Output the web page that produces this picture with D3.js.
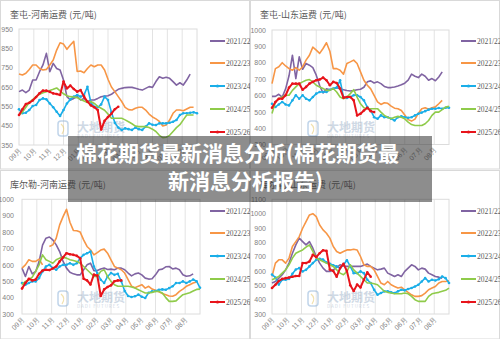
<!DOCTYPE html>
<html><head><meta charset="utf-8">
<script src="https://cdn.jsdelivr.net/npm/d3@7"></script>
<style>body{margin:0;background:#fff}svg{display:block;font-family:"Noto Sans CJK SC","Noto Sans",sans-serif}</style>
</head><body><svg id="c" width="500" height="339"></svg>
<script>
const months=["09月","10月","11月","12月","01月","02月","03月","04月","05月","06月","07月","08月"];
const seasons=["2021/22","2022/23","2023/24","2024/25","2025/26"];
const colors=["#8064a2","#f79646","#1aaee8","#8fcb4a","#e8141b"];
const headline1="棉花期货最新消息分析(棉花期货最";
const headline2="新消息分析报告)";
const titles=["奎屯-河南运费 (元/吨)","奎屯-山东运费 (元/吨)","库尔勒-河南运费 (元/吨)","库尔勒-山东运费 (元/吨)"];
const yTicks1=[350,450,550,650,750,850,950];
const yTicks2=[300,400,500,600,700,800,900,1000];
const yTicks3=[300,400,500,600,700,800,900,1000];
const yTicks4=[300,400,500,600,700,800,900,1000,1100];

// weekly values, panel 1 奎屯-河南
const kh2122=[626,634,621,634,686,686,729,764,824,729,772,746,738,686,600,583,591,600,583,591,574,583,583,591,600,603,605,612,626,638,643,647,648,648,643,638,634,643,652,648,678,703,695,700,695,678,660,672,660,686,717];
const kh2223=[717,712,721,741,764,764,746,738,741,764,790,841,879,872,845,867,886,730,733,724,746,764,755,764,764,738,690,650,626,600,575,545,533,531,540,545,545,531,510,495,485,472,448,453,479,514,531,531,527,536,545,545];
const kh2324=[535,514,517,531,552,557,583,591,586,565,545,522,500,531,565,586,600,609,600,609,651,570,548,545,560,600,583,520,465,440,428,436,432,428,440,432,428,445,462,455,453,462,462,462,465,470,479,505,514,514,517,519,514];
const kh2425=[505,520,545,570,585,600,612,620,626,632,638,645,630,615,605,600,598,595,585,578,570,575,565,550,540,530,510,488,488,488,488,480,470,460,448,445,445,445,440,432,420,400,388,390,400,420,440,455,480,505,505,505];
const kh2526=[505,535,562,568,580,598,618,631,631,625,617,614,609,678,643,657,640,626,634,600,574,555,545,531,430,475,495,512,535,548];
// panel 2 奎屯-山东
const ks2122=[594,594,607,590,640,720,846,703,836,760,795,785,770,724,660,615,640,635,640,648,640,635,630,627,630,635,638,650,683,689,676,683,672,655,648,648,652,658,665,675,693,730,717,709,730,717,693,703,690,713,744];
const ks2223=[672,764,775,800,780,764,754,770,754,775,816,846,895,877,857,887,922,870,764,764,754,730,795,805,816,795,744,693,662,640,600,560,545,555,552,535,522,519,508,480,452,443,455,490,519,525,515,525,530,549,570];
const ks2324=[549,529,545,560,545,539,570,601,580,601,580,570,590,611,621,621,621,635,642,648,693,590,585,590,601,601,590,570,529,508,467,457,478,467,467,457,447,467,472,467,463,467,478,488,495,504,513,519,519,523,519,525,525];
const ks2425=[490,560,580,590,601,601,631,652,672,683,693,697,683,662,652,642,631,631,642,621,590,580,590,611,635,590,549,525,519,519,519,519,498,478,467,457,467,472,467,457,437,422,416,416,416,427,447,478,498,498,513,529,533];
const ks2526=[525,560,580,580,601,648,672,672,672,635,652,672,683,693,697,709,693,662,683,676,642,586,590,590,570,478,488,508,525,504,498];
// panel 3 库尔勒-河南
const lh2122=[580,529,590,545,560,620,720,763,770,752,722,681,621,580,555,545,539,539,570,600,610,565,565,575,580,572,574,570,580,580,570,550,533,545,550,539,519,513,515,539,570,574,588,590,575,580,570,540,530,533,545];
const lh2223=[580,600,631,621,621,635,600,null,712,722,763,844,894,939,860,810,808,800,752,712,692,661,675,690,696,671,631,590,580,570,550,510,470,460,470,479,458,469,452,445,435,425,418,410,408,418,438,452,469,479,489,495];
const lh2324=[489,479,489,499,499,519,560,590,600,580,570,590,600,600,610,600,610,641,661,671,681,590,550,509,489,529,550,539,545,500,440,410,404,408,418,405,398,430,438,440,448,450,448,458,469,489,489,499,489,499,510,500,460];
const lh2425=[479,499,509,525,560,600,661,631,621,610,631,641,647,641,631,627,621,610,590,570,550,529,529,560,570,529,499,479,469,469,469,469,465,458,448,438,428,428,432,438,438,428,400,377,377,380,400,418,424,430,440,450,452];
const lh2526=[455,489,515,505,510,545,565,570,568,578,590,621,645,671,665,661,655,640,515,505,480,540,535,410,450,465,475,500,505,505];
// panel 4 库尔勒-山东
const ls2122=[516,527,550,574,608,655,724,782,829,805,782,805,759,701,655,620,597,597,608,625,643,635,632,632,632,632,632,640,648,632,620,608,613,620,585,574,562,574,562,597,620,643,632,608,620,613,585,574,562,557,550];
const ls2223=[562,655,678,678,655,690,771,805,840,898,945,991,1000,979,921,887,863,829,771,736,724,736,747,747,752,747,701,643,632,632,608,562,516,504,527,504,492,481,487,469,451,434,423,423,428,446,469,481,492,516,527,527,532];
const ls2324=[575,555,505,539,539,545,580,610,620,597,608,632,655,678,685,680,660,650,640,632,620,643,675,632,585,585,597,585,539,516,469,434,446,458,458,451,446,458,469,465,474,481,492,504,527,550,527,539,534,543,562,550,516];
const ls2425=[539,550,562,585,608,643,690,724,736,747,766,782,736,690,678,666,655,643,632,608,585,574,597,643,608,585,562,539,516,516,511,504,481,458,451,446,441,441,441,446,441,423,400,388,388,388,423,441,446,451,458,465,481];
const ls2526=[481,504,530,545,550,555,560,565,565,655,655,666,713,697,724,745,740,610,600,560,620,650,600,500,460,505,485,540,590,560];

const panels=[
 {ox:0,oy:0,x0:19,x1:197,yT:29,yB:145,ticks:yTicks1,title:titles[0],lx:210,ylx:13,data:[kh2122,kh2223,kh2324,kh2425,kh2526]},
 {ox:250,oy:0,x0:272,x1:449,yT:30,yB:144.5,ticks:yTicks2,title:titles[1],lx:461,ylx:266,data:[ks2122,ks2223,ks2324,ks2425,ks2526]},
 {ox:0,oy:170,x0:22,x1:200,yT:199.3,yB:314,ticks:yTicks3,title:titles[2],lx:210,ylx:14,data:[lh2122,lh2223,lh2324,lh2425,lh2526]},
 {ox:250,oy:170,x0:272,x1:449,yT:199.3,yB:314,ticks:yTicks4,title:titles[3],lx:461,ylx:266,data:[ls2122,ls2223,ls2324,ls2425,ls2526]}
];
const legendDY=[41,63,86,109,132];

const svg=d3.select("#c");
const defs=svg.append("defs");

panels.forEach((p,pi)=>{
  const cid="clip"+pi;
  defs.append("clipPath").attr("id",cid).append("rect").attr("x",p.ox).attr("y",p.oy).attr("width",250).attr("height",170);
  const g=svg.append("g").attr("clip-path",`url(#${cid})`);
  g.append("rect").attr("x",p.ox+0.5).attr("y",p.oy+0.5).attr("width",249).attr("height",168.5)
    .attr("fill","#fff").attr("stroke","#d9d9d9");
  const x=d3.scaleLinear().domain([0,52]).range([p.x0,p.x1]);
  const y=d3.scaleLinear().domain([p.ticks[0],p.ticks[p.ticks.length-1]]).range([p.yB,p.yT]);
  const mx=d3.scaleBand().domain(months).range([p.x0,p.x1]);
  g.append("g").selectAll("line").data(months.slice(1)).join("line")
    .attr("x1",d=>mx(d)).attr("x2",d=>mx(d)).attr("y1",p.yT).attr("y2",p.yB)
    .attr("stroke","#e3e3e3").attr("stroke-width",1);
  g.append("rect").attr("x",p.x0).attr("y",p.yT).attr("width",p.x1-p.x0).attr("height",p.yB-p.yT)
    .attr("fill","none").attr("stroke","#dcdcdc");
  // watermark
  const wm=g.append("g").attr("opacity",0.55);
  wm.append("rect").attr("x",p.ox+58).attr("y",p.oy+121).attr("width",10).attr("height",15).attr("rx",3)
    .attr("fill","none").attr("stroke","#8fb3d9").attr("stroke-width",1.5);
  wm.append("path").attr("d",`M${p.ox+61},${p.oy+124} Q${p.ox+66},${p.oy+128} ${p.ox+62},${p.oy+134}`)
    .attr("fill","none").attr("stroke","#e8c86a").attr("stroke-width",1.2);
  wm.append("text").attr("x",p.ox+77).attr("y",p.oy+132).attr("font-size",12).attr("font-weight","bold").attr("fill","#a9bbd0").text("大地期货");
  wm.append("text").attr("x",p.ox+77).attr("y",p.oy+138).attr("font-size",4.5).attr("fill","#a9bbd0").attr("letter-spacing",1).text("DADI FUTURES");
  // y axis
  const ya=g.append("g").attr("transform",`translate(${p.ylx},0)`)
    .call(d3.axisLeft(y).tickValues(p.ticks).tickSize(0).tickPadding(0).tickFormat(d3.format("d")));
  ya.select(".domain").remove();
  ya.selectAll("text").attr("font-size",7).attr("fill","#7f7f7f").attr("font-family","Liberation Sans, Arial, sans-serif");
  // x axis labels
  const xa=g.append("g").attr("transform",`translate(0,${p.yB})`)
    .call(d3.axisBottom(mx).tickSize(0).tickPadding(0));
  xa.select(".domain").remove();
  xa.selectAll(".tick").attr("transform",d=>`translate(${mx(d)},0)`);
  xa.selectAll("text").attr("font-size",7).attr("fill","#7f7f7f").attr("text-anchor","end")
    .attr("dy",0).attr("y",0).attr("transform","translate(3,6) rotate(-45)");
  // title
  g.append("text").attr("x",p.ox+10).attr("y",p.oy+18).attr("font-size",9).attr("fill","#595959").text(p.title);
  // lines
  const line=d3.line().defined(d=>d!=null).x((d,i)=>x(i)).y(d=>y(d));
  p.data.forEach((arr,si)=>{
    g.append("path").datum(arr).attr("d",line).attr("fill","none").attr("stroke",colors[si])
      .attr("stroke-width",si===4?2:1.6).attr("stroke-linejoin","round");
    if(si===2||si===4){
      g.append("g").selectAll("circle").data(arr.map((v,i)=>[i,v]).filter(d=>d[1]!=null)).join("circle")
        .attr("cx",d=>x(d[0])).attr("cy",d=>y(d[1])).attr("r",1.3).attr("fill",colors[si]);
    }
  });
  // legend
  seasons.forEach((s,si)=>{
    const ly=p.oy+legendDY[si];
    g.append("line").attr("x1",p.lx).attr("x2",p.lx+15).attr("y1",ly).attr("y2",ly)
      .attr("stroke",colors[si]).attr("stroke-width",2);
    if(si===2||si===4) g.append("circle").attr("cx",p.lx+7.5).attr("cy",ly).attr("r",1.6).attr("fill",colors[si]);
    g.append("text").attr("x",p.lx+16).attr("y",ly+2.5).attr("font-size",7.5).attr("fill","#595959")
      .attr("font-family","Liberation Serif, serif").text(s);
  });
});

// headline banner
svg.append("rect").attr("x",68).attr("y",136).attr("width",364).attr("height",66).attr("fill","rgba(55,55,55,0.57)");
svg.append("text").attr("x",76).attr("y",160.5).attr("font-size",21).attr("font-weight","bold").attr("fill","#fff").text(headline1);
svg.append("text").attr("x",168).attr("y",189).attr("font-size",21).attr("font-weight","bold").attr("fill","#fff").text(headline2);
</script></body></html>
